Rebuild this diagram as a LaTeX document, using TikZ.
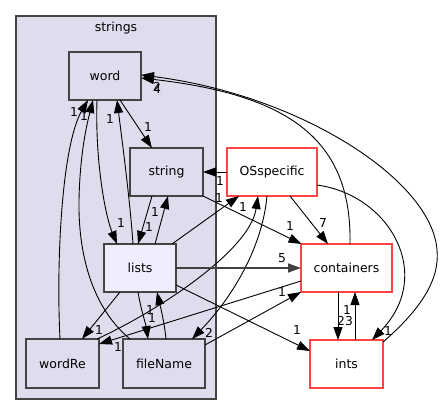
\documentclass[tikz,border=0pt]{standalone}
\usepackage{fontspec}
\setmainfont{DejaVu Sans}
\usetikzlibrary{arrows.meta}
\definecolor{clfill}{HTML}{DDDDEE}
\definecolor{clline}{HTML}{444444}
\definecolor{lstfill}{HTML}{EEEEFF}
\definecolor{extred}{HTML}{FF4444}
\definecolor{heavy}{HTML}{404040}
\tikzset{
  x=1pt, y=-1pt,
  dirbox/.style={draw=clline, fill=clfill, line width=1.3pt, inner sep=0pt, outer sep=0pt,
    font=\fontsize{12.5}{14}\selectfont},
  extbox/.style={draw=extred, fill=white, line width=1.3pt, inner sep=0pt, outer sep=0pt,
    font=\fontsize{12.5}{14}\selectfont},
  edge/.style={draw=black, line width=0.9pt, -{Triangle[length=13pt,width=9pt]}},
  heavyedge/.style={draw=heavy, line width=1.6pt, -{Triangle[length=13pt,width=9pt]}},
  lbl/.style={inner sep=0pt, font=\fontsize{12.3}{14}\selectfont},
}
\begin{document}
\begin{tikzpicture}
\useasboundingbox (0,0) rectangle (441,415);
% cluster
\node[draw=clline, fill=clfill, line width=1.3pt, inner sep=0pt, minimum width=200pt, minimum height=383pt] (cluster) at (116,207.5) {};
\node[inner sep=0pt, font=\fontsize{12.5}{14}\selectfont] (clusterlabel) at (116,28) {strings};
% nodes
\node[dirbox, minimum width=72pt, minimum height=48pt] (word) at (105,76) {word};
\node[dirbox, minimum width=73pt, minimum height=48pt] (string) at (166.5,172) {string};
\node[dirbox, fill=lstfill, minimum width=72pt, minimum height=48pt] (lists) at (140,268) {lists};
\node[dirbox, minimum width=73pt, minimum height=49pt] (wordRe) at (62.5,363.5) {wordRe};
\node[dirbox, minimum width=82pt, minimum height=49pt] (fileName) at (164,363.5) {fileName};
\node[extbox, minimum width=90pt, minimum height=48pt] (OSspecific) at (272,172) {OSspecific};
\node[extbox, minimum width=91pt, minimum height=48pt] (containers) at (346.5,268) {containers};
\node[extbox, minimum width=73pt, minimum height=48pt] (ints) at (346.5,364) {ints};
% edges inside cluster
\draw[edge] ([xshift=15pt]word.south) -- ([xshift=-14.5pt]string.north);
\draw[edge] ([xshift=-8pt]word.south) .. controls (95,160) and (105,215) .. ([xshift=-23pt]lists.north);
\draw[edge] ([xshift=-7pt]lists.north) .. controls (130,200) and (122,140) .. ([xshift=12pt]word.south);
\draw[edge] ([xshift=-14.5pt]string.south) -- ([xshift=-2pt]lists.north);
\draw[edge] ([xshift=15pt]lists.north) -- ([xshift=1.5pt]string.south);
\draw[edge] ([xshift=-2.5pt]wordRe.north) .. controls (56,260) and (62,145) .. ([xshift=-17pt]word.south);
\draw[edge] ([xshift=-34pt]fileName.north) .. controls (95,310) and (78,260) .. (79,200) .. controls (80,150) and (88,120) .. ([xshift=-12pt]word.south);
\draw[edge] ([xshift=-20pt]lists.south) -- ([xshift=19.5pt]wordRe.north);
\draw[edge] ([xshift=-2pt]lists.south) .. controls (141,310) and (146,325) .. ([xshift=-16pt]fileName.north);
\draw[edge] ([xshift=2pt]fileName.north) .. controls (164,320) and (160,305) .. ([xshift=17pt]lists.south);
% edges to/from outside
\draw[edge] (OSspecific.west) -- (string.east);
\draw[edge] (string.south east) -- ([xshift=-45pt]containers.north);
\draw[edge] ([xshift=18pt]OSspecific.south) -- ([xshift=-18.5pt]containers.north);
\draw[edge] ([xshift=-4pt]lists.north east) -- ([xshift=-33pt]OSspecific.south);
\draw[edge] ([xshift=-2pt]wordRe.north east) .. controls (160,310) and (250,250) .. ([xshift=-14pt]OSspecific.south);
\draw[edge] ([xshift=-5pt]OSspecific.south) .. controls (262,250) and (230,300) .. ([xshift=28pt]fileName.north);
\draw[edge] ([yshift=-13pt]containers.west) -- ([yshift=-5pt]wordRe.north east);
\draw[edge] ([yshift=-6pt]fileName.north east) -- (containers.south west);
\draw[heavyedge] (lists.east) -- (containers.west);
\draw[edge] ([yshift=-17pt]lists.east) -- ([yshift=13pt]ints.west);
\draw[edge] ([xshift=-8.5pt]containers.south) -- ([xshift=-8.5pt]ints.north);
\draw[edge] ([xshift=8.5pt]ints.north) -- ([xshift=8.5pt]containers.south);
\draw[edge] ([xshift=3.5pt]containers.north) .. controls (352,140) and (290,95) .. ([yshift=-2pt]word.east);
\draw[edge] ([yshift=-2pt]ints.north east) .. controls (420,310) and (440,280) .. (437,250) .. controls (432,180) and (300,95) .. ([yshift=1pt]word.east);
\draw[edge] ([yshift=-13pt]OSspecific.east) .. controls (390,195) and (435,275) .. ([xshift=25.5pt]ints.north);
% labels
\node[lbl] (l1) at (148,127) {1};
\node[lbl] (l2) at (121,223) {1};
\node[lbl] (l3) at (110,119) {1};
\node[lbl] (l4) at (149,227) {1};
\node[lbl] (l5) at (155,212) {1};
\node[lbl] (l6) at (74,112) {1};
\node[lbl] (l7) at (84,116) {1};
\node[lbl] (l8) at (99,330) {1};
\node[lbl] (l9) at (152,318) {1};
\node[lbl] (l10) at (150,310) {1};
\node[lbl] (l11) at (220,181) {1};
\node[lbl] (l12) at (290,226) {1};
\node[lbl] (l13) at (323,223) {7};
\node[lbl] (l14) at (219,198) {1};
\node[lbl] (l15) at (243,207) {1};
\node[lbl] (l16) at (209,333) {2};
\node[lbl] (l17) at (118,347) {1};
\node[lbl] (l18) at (282,292) {1};
\node[lbl] (l19) at (282,258) {5};
\node[lbl] (l20) at (297,330) {1};
\node[lbl] (l21) at (345,321) {23};
\node[lbl] (l22) at (347,310) {1};
\node[lbl] (l23) at (157,89) {4};
\node[lbl] (l24) at (157,87) {2};
\node[lbl] (l25) at (388,331) {1};
\end{tikzpicture}
\end{document}
